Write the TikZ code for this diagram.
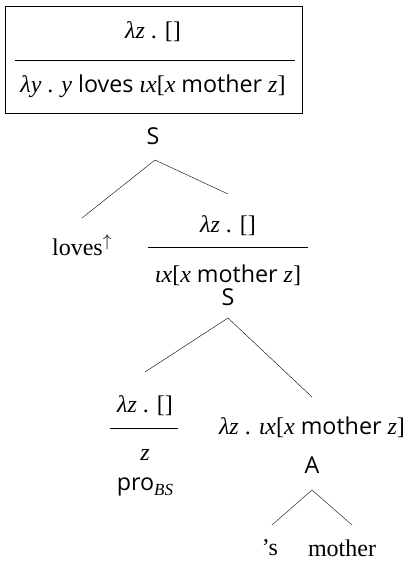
\documentclass[tikz,border=0pt]{standalone}
\usepackage{fontspec}
\setmainfont{Liberation Serif}
\setsansfont[Scale=0.97]{Open Sans}
\newcommand{\vr}[1]{\textit{#1}}
\newcommand{\sw}[1]{\textsf{#1}}
\begin{document}
\begin{tikzpicture}[x=1pt, y=-1pt, font=\fontsize{24}{28}\selectfont, inner sep=1pt]
\useasboundingbox (0,0) rectangle (410,563);
% root box
\draw (5,6) rectangle (302,113);
\node (rtop) at (153,32) {\vr{λz} . []};
\draw (15,60) -- (295,60);
\node (rbot) at (153,86) {\vr{λy} . \vr{y} \sw{loves} \vr{ιx}[\vr{x} \sw{mother} \vr{z}]};
\node (s1) at (153,136) {\sw{S}};
% first branching
\coordinate (s1b) at (155,160);
\coordinate (lovest) at (82,218);
\coordinate (rfract) at (228,194);
\draw (s1b) -- (lovest);
\draw (s1b) -- (rfract);
\node (loves) at (82,245) {loves$^{\uparrow}$};
\node (rfrtop) at (228,226) {\vr{λz} . []};
\draw (148,247) -- (308,247);
\node (rfrbot) at (228,275) {\vr{ιx}[\vr{x} \sw{mother} \vr{z}]};
\node (s2) at (228,297) {\sw{S}};
% second branching
\coordinate (s2b) at (228,318);
\coordinate (profract) at (145,372);
\coordinate (lamt) at (312,397);
\draw (s2b) -- (profract);
\draw (s2b) -- (lamt);
\node (protop) at (145,406) {\vr{λz} . []};
\draw (110,428) -- (178,428);
\node (probot) at (145,455) {\vr{z}};
\node (pro) at (145,487) {\sw{pro}\raisebox{-5pt}{\fontsize{17}{19}\selectfont\vr{BS}}};
\node (lam) at (312,427) {\vr{λz} . \vr{ιx}[\vr{x} \sw{mother} \vr{z}]};
\node (a) at (312,465) {\sw{A}};
% third branching
\coordinate (ab) at (312,490);
\coordinate (post) at (272,525);
\coordinate (mothert) at (352,525);
\draw (ab) -- (post);
\draw (ab) -- (mothert);
\node (poss) at (270,548) {’s};
\node (mother) at (342,548) {mother};
\end{tikzpicture}
\end{document}
